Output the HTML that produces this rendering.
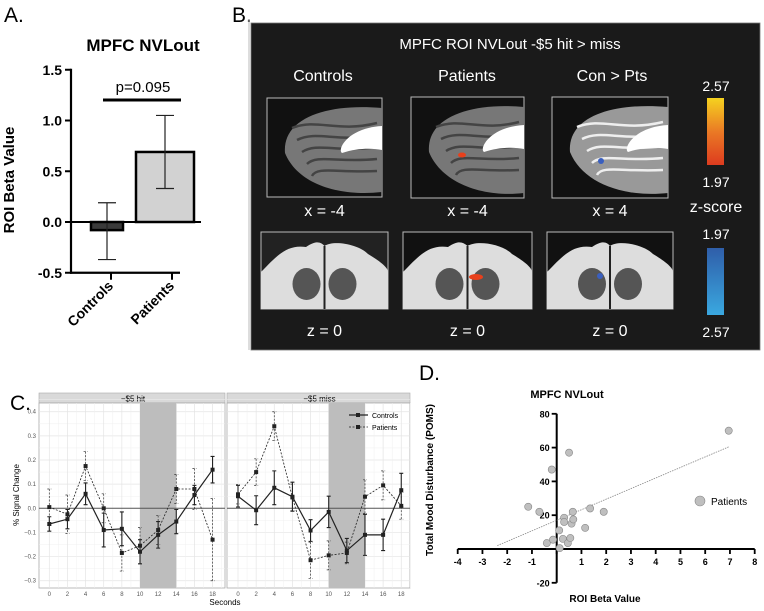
<!DOCTYPE html>
<html><head><meta charset="utf-8">
<style>
html,body{margin:0;padding:0;background:#fff;}
body{width:764px;height:611px;overflow:hidden;font-family:"Liberation Sans",Arial,sans-serif;}
svg{position:absolute;left:0;top:0;}
</style></head>
<body>
<svg id="fig" width="764" height="611" viewBox="0 0 764 611" xmlns="http://www.w3.org/2000/svg" font-family="Liberation Sans, Arial, sans-serif">
  <text x="4" y="22" font-size="21">A.</text>
  <text x="232" y="22" font-size="21">B.</text>
  <text x="10" y="410" font-size="21">C.</text>
  <text x="419" y="380" font-size="21">D.</text>
  <line x1="249" y1="20" x2="249" y2="350" stroke="#bbb" stroke-width="1"/>
  <g id="panelA"></g>
  <g id="panelB"></g>
  <g id="panelC"></g>
  <g id="panelD"></g>
</svg>
<script>
const NS="http://www.w3.org/2000/svg";
function mk(parent,tag,attrs,txt){const e=document.createElementNS(NS,tag);for(const k in attrs)e.setAttribute(k,attrs[k]);if(txt!==undefined)e.textContent=txt;parent.appendChild(e);return e;}

// ---------- Panel A data ----------
const aGroups=["Controls","Patients"];
const aValues=[-0.08,0.69];
const aErrHigh=[0.19,1.05];
const aErrLow=[-0.37,0.33];
const aTicks=[1.5,1.0,0.5,0.0,-0.5];
const aTickLabels=["1.5","1.0","0.5","0.0","-0.5"];

// ---------- Panel C data ----------
const cSeconds=[0,2,4,6,8,10,12,14,16,18];
const cYTicks=[0.4,0.3,0.2,0.1,0.0,-0.1,-0.2,-0.3];
const cYTickLabels=["0.4","0.3","0.2","0.1","0.0","\u22120.1","\u22120.2","\u22120.3"];
const cFacets=["\u2212$5 hit","\u2212$5 miss"];
const hitControls=[-0.065,-0.045,0.06,-0.09,-0.085,-0.18,-0.11,-0.055,0.055,0.16];
const hitControlsErr=[0.03,0.04,0.045,0.07,0.07,0.05,0.055,0.05,0.04,0.055];
const hitPatients=[0.005,-0.025,0.175,0.0,-0.185,-0.155,-0.09,0.08,0.08,-0.13];
const hitPatientsErr=[0.075,0.08,0.06,0.06,0.075,0.075,0.06,0.06,0.085,0.17];
const missControls=[0.05,-0.008,0.085,0.048,-0.092,-0.015,-0.175,-0.11,-0.11,0.075];
const missControlsErr=[0.045,0.06,0.07,0.06,0.045,0.065,0.05,0.085,0.065,0.07];
const missPatients=[0.058,0.15,0.34,0.045,-0.215,-0.195,-0.185,0.048,0.095,0.01];
const missPatientsErr=[0.04,0.055,0.06,0.055,0.075,0.06,0.045,0.07,0.06,0.055];
const cBand=[10,14];

// ---------- Panel D data ----------
const dBeta=[-1.15,-0.7,-0.4,-0.15,-0.2,0.5,0.1,0.12,0.25,0.3,0.3,0.45,0.55,0.6,0.65,0.67,1.15,1.35,1.9,6.95];
const dPoms=[25,22,3.5,5.5,47,57,11,0.5,6,18.5,16,3.5,6.5,15,22,17.5,12.5,24,22,70];
const dXTicks=[-4,-3,-2,-1,0,1,2,3,4,5,6,7,8];
const dYTicks=[80,60,40,20,-20];
const dFitX=[-2.4,6.95];
const dFitSlope=6.25, dFitIntercept=17;

// ===== Panel A =====
(function(){
  const g=document.getElementById('panelA');
  const y=v=>222-v*101.5;
  const bx=[{l:91,r:123,c:107},{l:136,r:194,c:165}];
  mk(g,'text',{x:143,y:51,'font-size':17,'font-weight':'bold','text-anchor':'middle',},"MPFC NVLout");
  mk(g,'text',{x:14,y:180,'font-size':15,'font-weight':'bold','text-anchor':'middle',transform:'rotate(-90 14 180)',},"ROI Beta Value");
  mk(g,'line',{x1:71,y1:y(1.5)-1,x2:71,y2:y(-0.5)+1,stroke:'#000','stroke-width':2.2,});
  mk(g,'line',{x1:70,y1:y(-0.5),x2:180,y2:y(-0.5),stroke:'#000','stroke-width':2.2,});
  aTicks.forEach((t,i)=>{
    const tk=mk(g,'line',{x1:65,y1:y(t),x2:71,y2:y(t),stroke:'#000','stroke-width':2});
    
    
    const tl=mk(g,'text',{x:62,y:y(t)+5,'font-size':14,'font-weight':'bold','text-anchor':'end'},aTickLabels[i]);
    
    
  });
  aGroups.forEach((name,i)=>{
    const b=bx[i];const top=Math.min(y(0),y(aValues[i])),h=Math.abs(y(aValues[i])-y(0));
    const r=mk(g,'rect',{x:b.l,y:top,width:b.r-b.l,height:h,fill:i==0?'#3a3a3a':'#d2d2d2',stroke:'#000','stroke-width':2.5});
    
    
    const e=mk(g,'path',{d:`M${b.c-9},${y(aErrHigh[i])}H${b.c+9}M${b.c},${y(aErrHigh[i])}V${y(aErrLow[i])}M${b.c-9},${y(aErrLow[i])}H${b.c+9}`,stroke:'#222','stroke-width':1.2,fill:'none'});
    
    
    const xt=[111,172][i];
    const tk=mk(g,'line',{x1:xt,y1:y(-0.5),x2:xt,y2:y(-0.5)+7,stroke:'#000','stroke-width':2});
    
    
    const tl=mk(g,'text',{x:xt+3,y:y(-0.5)+14,'font-size':14,'font-weight':'bold','text-anchor':'end',transform:`rotate(-45 ${xt+3} ${y(-0.5)+14})`},name);
    
    
  });
  mk(g,'line',{x1:70,y1:222,x2:201,y2:222,stroke:'#000','stroke-width':2,});
  mk(g,'line',{x1:103,y1:100,x2:181,y2:100,stroke:'#000','stroke-width':3,});
  mk(g,'text',{x:143,y:92,'font-size':15,'text-anchor':'middle',},"p=0.095");
})();

// ===== Panel B =====
(function(){
  const g=document.getElementById('panelB');
  mk(g,'rect',{x:251,y:23,width:509,height:327,fill:'#1a1a1a',stroke:'#777','stroke-width':0.8,});
  mk(g,'text',{x:510,y:49,'font-size':15,fill:'#fff','text-anchor':'middle',},"MPFC ROI NVLout -$5 hit > miss");
  const heads=[["Controls",323],["Patients",467],["Con > Pts",612]];
  heads.forEach(h=>{const t=mk(g,'text',{x:h[1],y:81,'font-size':16,fill:'#fff','text-anchor':'middle'},h[0]);});
  const sag=[[267,98,115,99,'#777'],[411,97,113,101,'#777'],[552,97,116,101,'#999']];
  sag.forEach((s,i)=>{
    const [x,y,w,h,c]=s;
    const gg=mk(g,'g',{});
    
    
    mk(gg,'rect',{x:x,y:y,width:w,height:h,fill:'#111',stroke:'#bbb','stroke-width':1});
    mk(gg,'path',{d:`M${x+18},${y+55} C${x+15},${y+20} ${x+60},${y+5} ${x+w},${y+10} L${x+w},${y+h-5} C${x+70},${y+h} ${x+30},${y+85} ${x+18},${y+55}Z`,fill:c});
    for(let k=0;k<5;k++){mk(gg,'path',{d:`M${x+25+k*5},${y+30+k*12} C${x+50},${y+20+k*12} ${x+70},${y+35+k*10} ${x+w-5},${y+25+k*12}`,stroke:i==2?'#eee':'#444','stroke-width':2.5,fill:'none'});}
    mk(gg,'path',{d:`M${x+w},${y+28} C${x+w-35},${y+30} ${x+w-45},${y+52} ${x+w-40},${y+55} C${x+w-25},${y+50} ${x+w-10},${y+50} ${x+w},${y+52}Z`,fill:'#fff'});
    const lab=mk(g,'text',{x:x+w/2,y:216,'font-size':16,fill:'#fff','text-anchor':'middle'},["x = -4","x = -4","x = 4"][i]);
    
    
  });
  mk(g,'ellipse',{cx:462,cy:155,rx:4,ry:2.5,fill:'#e8401c',});
  mk(g,'ellipse',{cx:601,cy:161,rx:3,ry:3,fill:'#3a5fbf',});
  const ax=[[261,232,127,77],[403,232,129,77],[547,232,126,77]];
  ax.forEach((a,i)=>{
    const [x,y,w,h]=a;
    const gg=mk(g,'g',{});
    
    
    mk(gg,'rect',{x:x,y:y,width:w,height:h,fill:i==0?'#222':'#111',stroke:'#bbb','stroke-width':1});
    mk(gg,'path',{d:`M${x},${y+40} C${x+15},${y+25} ${x+25},${y+12} ${x+45},${y+15} C${x+55},${y+8} ${x+60},${y+10} ${x+w/2},${y+14} C${x+w-55},${y+8} ${x+w-30},${y+12} ${x+w-20},${y+22} C${x+w-10},${y+28} ${x+w},${y+35} ${x+w},${y+40} L${x+w},${y+h} L${x},${y+h}Z`,fill:'#ddd'});
    mk(gg,'ellipse',{cx:x+w/2-18,cy:y+52,rx:14,ry:16,fill:'#555'});
    mk(gg,'ellipse',{cx:x+w/2+18,cy:y+52,rx:14,ry:16,fill:'#555'});
    mk(gg,'line',{x1:x+w/2,y1:y+14,x2:x+w/2,y2:y+h,stroke:'#222','stroke-width':2});
    const lab=mk(g,'text',{x:x+w/2,y:336,'font-size':16,fill:'#fff','text-anchor':'middle'},"z = 0");
    
    
  });
  mk(g,'ellipse',{cx:476,cy:277,rx:7,ry:3,fill:'#e8401c',});
  mk(g,'ellipse',{cx:600,cy:276,rx:3,ry:3,fill:'#3a5fbf',});
  const defs=mk(g,'defs',{});
  const g1=mk(defs,'linearGradient',{id:'warm',x1:0,y1:0,x2:0,y2:1});
  mk(g1,'stop',{offset:'0','stop-color':'#f5d21f'});mk(g1,'stop',{offset:'0.5','stop-color':'#ea7a25'});mk(g1,'stop',{offset:'1','stop-color':'#dd3b1f'});
  const g2=mk(defs,'linearGradient',{id:'cool',x1:0,y1:0,x2:0,y2:1});
  mk(g2,'stop',{offset:'0','stop-color':'#2f5ea9'});mk(g2,'stop',{offset:'1','stop-color':'#3aa8e0'});
  mk(g,'rect',{x:707,y:98,width:17,height:67,fill:'url(#warm)',});
  mk(g,'rect',{x:707,y:248,width:17,height:67,fill:'url(#cool)',});
  [["2.57",91,14],["1.97",187,14],["z-score",212,16],["1.97",239,14],["2.57",337,14]].forEach(l=>{
    const t=mk(g,'text',{x:716,y:l[1],'font-size':l[2],fill:'#fff','text-anchor':'middle'},l[0]);
    
    
  });
})();

// ===== Panel C =====
(function(){
  const g=document.getElementById('panelC');
  const yv=v=>508.3-v*241.4;
  const facets=[{x0:39,x1:227,sx:49.3},{x0:227,x1:412,sx:238}];
  const xs=(f,s)=>f.sx+s*9.07;
  const data=[[hitControls,hitControlsErr,hitPatients,hitPatientsErr],[missControls,missControlsErr,missPatients,missPatientsErr]];
  facets.forEach((f,fi)=>{
    const fg=mk(g,'g',{});
    
    
    mk(fg,'rect',{x:f.x0,y:393,width:f.x1-f.x0-2,height:10,fill:'#d9d9d9',stroke:'#aaa','stroke-width':0.6});
    const st=mk(fg,'text',{x:(f.x0+f.x1)/2,y:401.5,'font-size':8,'text-anchor':'middle'},cFacets[fi]);
    
    
    mk(fg,'rect',{x:f.x0,y:403,width:f.x1-f.x0-2,height:185,fill:'#fff',stroke:'#aaa','stroke-width':0.8});
    cYTicks.forEach(t=>{mk(fg,'line',{x1:f.x0,x2:f.x1-2,y1:yv(t),y2:yv(t),stroke:'#e4e4e4','stroke-width':0.7});mk(fg,'line',{x1:f.x0,x2:f.x1-2,y1:yv(t+0.05),y2:yv(t+0.05),stroke:'#f0f0f0','stroke-width':0.5});});
    cSeconds.forEach(s=>{mk(fg,'line',{x1:xs(f,s),x2:xs(f,s),y1:403,y2:588,stroke:'#e4e4e4','stroke-width':0.7});mk(fg,'line',{x1:xs(f,s+1),x2:xs(f,s+1),y1:403,y2:588,stroke:'#f0f0f0','stroke-width':0.5});
      const tl=mk(fg,'text',{x:xs(f,s),y:596,'font-size':6,fill:'#555','text-anchor':'middle'},String(s));
      
      
    });
    const band=mk(fg,'rect',{x:xs(f,cBand[0]),y:403,width:xs(f,cBand[1])-xs(f,cBand[0]),height:185,fill:'#bdbdbd'});
    
    
    mk(fg,'line',{x1:f.x0,x2:f.x1-2,y1:yv(0),y2:yv(0),stroke:'#555','stroke-width':1});
    const d=data[fi];
    [[d[2],d[3],'2,1.5','patients'],[d[0],d[1],null,'controls']].forEach(ser=>{
      const [vals,errs,dash,nm]=ser;
      vals.forEach((v,i)=>{
        const x=xs(f,cSeconds[i]);
        const eb=mk(fg,'path',{d:`M${x-2},${yv(v+errs[i])}H${x+2}M${x},${yv(v+errs[i])}V${yv(v-errs[i])}M${x-2},${yv(v-errs[i])}H${x+2}`,stroke:dash?'#333':'#222','stroke-width':dash?0.7:1.1,fill:'none'});
        if(dash)eb.setAttribute('stroke-dasharray',dash);
        
        
      });
      const pts=vals.map((v,i)=>xs(f,cSeconds[i])+','+yv(v)).join(' ');
      const pl=mk(fg,'polyline',{points:pts,fill:'none',stroke:'#222','stroke-width':dash?0.8:1.2});
      if(dash)pl.setAttribute('stroke-dasharray',dash);
      
      
      vals.forEach((v,i)=>{
        const m=mk(fg,'rect',{x:xs(f,cSeconds[i])-2,y:yv(v)-2,width:4,height:4,fill:'#222'});
        
        
      });
    });
  });
  cYTicks.forEach((t,i)=>{
    const tl=mk(g,'text',{x:36,y:yv(t)+2,'font-size':6,fill:'#555','text-anchor':'end'},cYTickLabels[i]);
    
    
  });
  mk(g,'text',{x:19,y:495,'font-size':8,'text-anchor':'middle',transform:'rotate(-90 19 495)',},"% Signal Change");
  mk(g,'text',{x:225,y:605,'font-size':8,'text-anchor':'middle',},"Seconds");
  const lg=mk(g,'g',{});
  
  
  mk(lg,'line',{x1:349,x2:368,y1:415,y2:415,stroke:'#222','stroke-width':1.2});
  mk(lg,'rect',{x:356,y:413,width:4,height:4,fill:'#222'});
  mk(lg,'text',{x:372,y:418,'font-size':7},"Controls");
  mk(lg,'line',{x1:349,x2:368,y1:427,y2:427,stroke:'#222','stroke-width':0.8,'stroke-dasharray':'2,1.5'});
  mk(lg,'rect',{x:356,y:425,width:4,height:4,fill:'#222'});
  mk(lg,'text',{x:372,y:430,'font-size':7},"Patients");
})();

// ===== Panel D =====
(function(){
  const g=document.getElementById('panelD');
  const xv=v=>556.7+v*24.75;
  const yv=v=>549-v*1.69;
  mk(g,'text',{x:567,y:398,'font-size':11,'font-weight':'bold','text-anchor':'middle',},"MPFC NVLout");
  mk(g,'text',{x:433,y:480,'font-size':10,'font-weight':'bold','text-anchor':'middle',transform:'rotate(-90 433 480)',},"Total Mood Disturbance (POMS)");
  mk(g,'text',{x:605,y:602,'font-size':10,'font-weight':'bold','text-anchor':'middle',},"ROI Beta Value");
  mk(g,'line',{x1:xv(0),x2:xv(0),y1:yv(80),y2:yv(-20),stroke:'#000','stroke-width':2,});
  mk(g,'line',{x1:xv(-4),x2:xv(8),y1:yv(0),y2:yv(0),stroke:'#000','stroke-width':2,});
  dXTicks.forEach(t=>{
    const tk=mk(g,'line',{x1:xv(t),x2:xv(t),y1:yv(0),y2:yv(0)+5,stroke:'#000','stroke-width':1.8});
    
    
    if(t!==0){const tl=mk(g,'text',{x:xv(t),y:yv(0)+16,'font-size':9,'font-weight':'bold','text-anchor':'middle'},String(t));
      
      }
  });
  dYTicks.forEach(t=>{
    const tk=mk(g,'line',{x1:xv(0)-5,x2:xv(0),y1:yv(t),y2:yv(t),stroke:'#000','stroke-width':1.8});
    
    
    const tl=mk(g,'text',{x:xv(0)-7,y:yv(t)+3.5,'font-size':9,'font-weight':'bold','text-anchor':'end'},String(t));
    
    
  });
  const fit=mk(g,'line',{x1:xv(dFitX[0]),y1:yv(dFitSlope*dFitX[0]+dFitIntercept),x2:xv(dFitX[1]),y2:yv(dFitSlope*dFitX[1]+dFitIntercept),stroke:'#888','stroke-width':0.8,'stroke-dasharray':'1.5,1'});
  
  
  dBeta.forEach((b,i)=>{
    const c=mk(g,'circle',{cx:xv(b),cy:yv(dPoms[i]),r:3.6,fill:'#bfbfbf',stroke:'#888','stroke-width':0.6});
    
    
  });
  mk(g,'circle',{cx:700,cy:501,r:5,fill:'#bfbfbf',stroke:'#888','stroke-width':0.6,});
  mk(g,'text',{x:711,y:505,'font-size':10,},"Patients");
})();
</script>
</body></html>
